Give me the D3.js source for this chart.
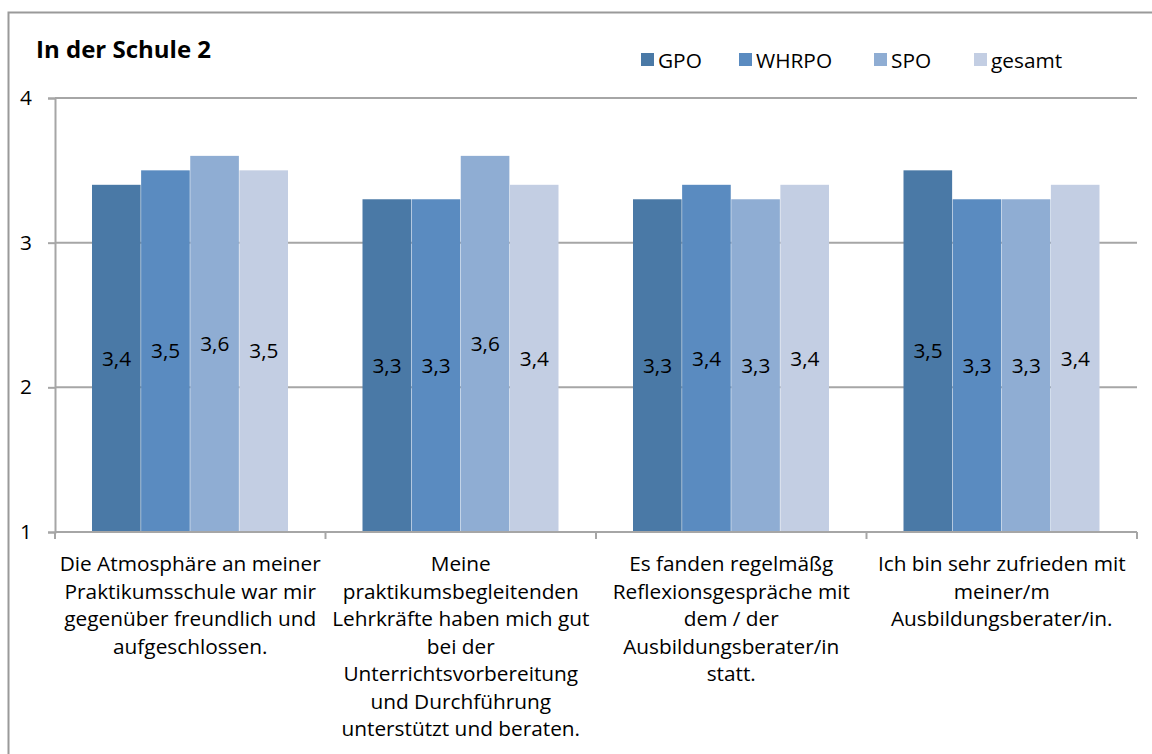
<!DOCTYPE html>
<html>
<head>
<meta charset="utf-8">
<script src="https://cdn.jsdelivr.net/npm/d3@7"></script>
<style>
  body { margin: 0; background: #fff; }
  text { font-family: "Open Sans", sans-serif; fill: #000; }
</style>
</head>
<body>
<svg id="chart" width="1152" height="754"></svg>
<script>
var seriesNames = ["GPO", "WHRPO", "SPO", "gesamt"];
var seriesColors = ["#4a79a6", "#5a8bc0", "#8fadd3", "#c3cee3"];
var categories = [
  ["Die Atmosphäre an meiner", "Praktikumsschule war mir", "gegenüber freundlich und", "aufgeschlossen."],
  ["Meine", "praktikumsbegleitenden", "Lehrkräfte haben mich gut", "bei der", "Unterrichtsvorbereitung", "und Durchführung", "unterstützt und beraten."],
  ["Es fanden regelmäßg", "Reflexionsgespräche mit", "dem / der", "Ausbildungsberater/in", "statt."],
  ["Ich bin sehr zufrieden mit", "meiner/m", "Ausbildungsberater/in."]
];
var GPO = [3.4, 3.3, 3.3, 3.5];
var WHRPO = [3.5, 3.3, 3.4, 3.3];
var SPO = [3.6, 3.6, 3.3, 3.3];
var gesamt = [3.5, 3.4, 3.4, 3.4];
var yTicks = [1, 2, 3, 4];

function draw(){
  var svg = d3.select("#chart");
  var left = 55, right = 1137, top = 98, bottom = 532;
  var series = [GPO, WHRPO, SPO, gesamt];
  var fs = 20.8;

  // outer frame
  svg.append("rect").attr("x", 8.5).attr("y", 12.5).attr("width", 1160).attr("height", 760)
     .attr("fill", "none").attr("stroke", "#9a9a9a").attr("stroke-width", 2);

  svg.append("text").attr("x", 36).attr("y", 58).attr("font-size", 24).attr("font-weight", "bold")
     .text("In der Schule 2");

  var x0 = d3.scaleBand().domain(d3.range(categories.length)).range([left, right]);
  var x1 = d3.scaleBand().domain(d3.range(seriesNames.length)).range([37, x0.bandwidth() - 37]);
  var y = d3.scaleLinear().domain([1, 4]).range([bottom, top]);

  // gridlines
  svg.append("g").selectAll("line").data(yTicks.slice(1)).enter().append("line")
     .attr("x1", left).attr("x2", right).attr("y1", y).attr("y2", y)
     .attr("stroke", "#a6a6a6").attr("stroke-width", 2);

  // y axis
  var yAxis = svg.append("g").attr("transform", "translate(" + left + ",0)")
     .call(d3.axisLeft(y).tickValues(yTicks).tickFormat(d3.format("d")).tickSize(7).tickPadding(16));
  yAxis.select(".domain").attr("stroke", "#a6a6a6").attr("stroke-width", 2);
  yAxis.selectAll(".tick line").attr("stroke", "#a6a6a6").attr("stroke-width", 2);
  yAxis.selectAll(".tick text").attr("font-size", fs).attr("font-family", "'Open Sans', sans-serif").attr("fill", "#000");

  // bars
  var groups = svg.append("g").selectAll("g").data(categories).enter().append("g")
     .attr("transform", function(d, i){ return "translate(" + x0(i) + ",0)"; });

  groups.each(function(c, i){
    var g = d3.select(this);
    series.forEach(function(s, j){
      g.append("rect").attr("x", x1(j)).attr("y", y(s[i]))
       .attr("width", x1.bandwidth() - 0.5).attr("height", bottom - y(s[i]))
       .attr("fill", seriesColors[j]);
      g.append("text").attr("x", x1(j) + x1.bandwidth() / 2)
       .attr("y", (y(s[i]) + bottom) / 2)
       .attr("dy", "0.35em").attr("text-anchor", "middle").attr("font-size", fs)
       .text(d3.format(".1f")(s[i]).replace(".", ","));
    });
  });

  // x axis
  var xLine = svg.append("g");
  xLine.append("line").attr("x1", left).attr("x2", right).attr("y1", bottom).attr("y2", bottom)
     .attr("stroke", "#a6a6a6").attr("stroke-width", 2);
  var seps = d3.range(categories.length + 1).map(function(i){ return left + i * x0.bandwidth(); });
  xLine.selectAll("line.sep").data(seps).enter().append("line").attr("class", "sep")
     .attr("x1", function(d){ return d; }).attr("x2", function(d){ return d; })
     .attr("y1", bottom).attr("y2", bottom + 7)
     .attr("stroke", "#a6a6a6").attr("stroke-width", 2);

  groups.each(function(c, i){
    var t = d3.select(this).append("text").attr("text-anchor", "middle").attr("font-size", fs);
    c.forEach(function(line, k){
      t.append("tspan").attr("x", x0.bandwidth() / 2).attr("y", 571 + k * 27.5).text(line);
    });
  });

  // legend
  var legX = [641, 739, 874, 974];
  var leg = svg.append("g").selectAll("g").data(seriesNames).enter().append("g")
     .attr("transform", function(d, i){ return "translate(" + legX[i] + ",53)"; });
  leg.append("rect").attr("width", 13).attr("height", 13).attr("fill", function(d, i){ return seriesColors[i]; });
  leg.append("text").attr("x", 17).attr("y", 15).attr("font-size", fs).text(function(d){ return d; });
}

draw();
</script>
</body>
</html>
